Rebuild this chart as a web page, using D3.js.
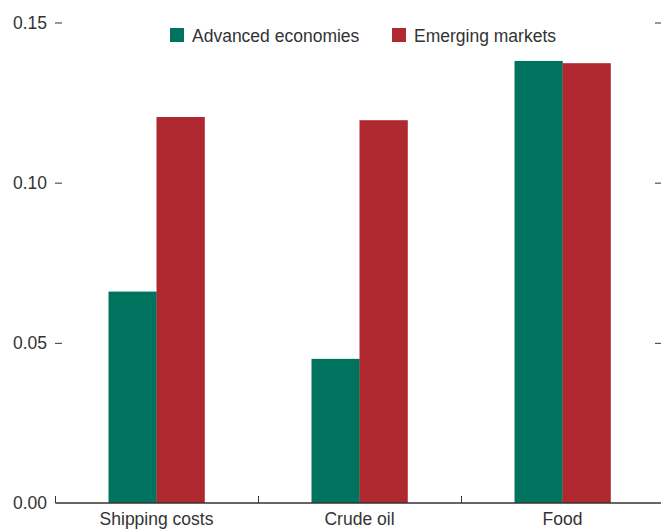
<!DOCTYPE html>
<html>
<head>
<meta charset="utf-8">
<script src="https://cdn.jsdelivr.net/npm/d3@7"></script>
<style>
  body { margin: 0; background: #fff; overflow: hidden; }
  svg { display: block; }
  text { font-family: 'Liberation Sans', Arial, sans-serif; fill: #333; }
</style>
</head>
<body>
<script>
const categories = ['Shipping costs', 'Crude oil', 'Food']
const series = ['Advanced economies', 'Emerging markets']
const advanced = [0.066, 0.045, 0.138]
const emerging = [0.1205, 0.1195, 0.1373]
const yTicks = [0, 0.05, 0.10, 0.15]

const w = 661
const h = 529
const left = 55
const right = 664
const bottom = 503
const fontSize = 17.5
const colors = ['#00735F', '#B0282F']
const axisColor = '#333'

const svg = d3.select('body').append('svg')
  .attr('width', w)
  .attr('height', h)

const yScale = d3.scaleLinear()
  .domain([0, 0.15])
  .range([bottom, 22.5])

const x0 = d3.scaleBand()
  .domain(categories)
  .range([left, right])

const x1 = d3.scaleBand()
  .domain(series)
  .range([0, x0.bandwidth()])
  .paddingOuter(1.115)

const color = d3.scaleOrdinal().domain(series).range(colors)

// bars
const rows = categories.map((c, i) => ({ cat: c, vals: [advanced[i], emerging[i]] }))

const groups = svg.append('g').selectAll('g')
  .data(rows)
  .join('g')
  .attr('transform', d => 'translate(' + x0(d.cat) + ',0)')

groups.selectAll('rect')
  .data(d => d.vals.map((v, j) => ({ s: series[j], v })))
  .join('rect')
  .attr('x', d => x1(d.s))
  .attr('width', x1.bandwidth() + 0.3)
  .attr('y', d => yScale(d.v))
  .attr('height', d => bottom - yScale(d.v))
  .attr('fill', d => color(d.s))

// left y axis: dashes only
const yAxis = d3.axisLeft(yScale)
  .tickValues(yTicks)
  .tickFormat(d3.format('.2f'))
  .tickSize(0)
  .tickPadding(8)

const gy = svg.append('g')
  .attr('transform', 'translate(' + left + ',0)')
  .call(yAxis)
gy.select('.domain').remove()
gy.selectAll('text').attr('font-size', fontSize).attr('fill', axisColor)
gy.selectAll('.tick').filter(d => d > 0).append('line')
  .attr('x1', 0).attr('x2', 7)
  .attr('stroke', axisColor)

// right side dashes
const gr = svg.append('g')
  .attr('transform', 'translate(' + (right - 2) + ',0)')
  .call(d3.axisRight(yScale).tickValues(yTicks.filter(d => d > 0)).tickSize(-7).tickFormat(''))
gr.select('.domain').remove()
gr.selectAll('line').attr('stroke', axisColor)

// bottom axis
const xAxis = d3.axisBottom(x0).tickSize(0).tickPadding(10)
const gx = svg.append('g')
  .attr('transform', 'translate(0,' + bottom + ')')
  .call(xAxis)
gx.select('.domain').attr('d', 'M' + (left + 0.5) + ',0H' + right).attr('stroke', axisColor).attr('stroke-width', 1.3)
gx.selectAll('text').attr('font-size', fontSize).attr('fill', axisColor)

// category separators
gx.selectAll('.sep')
  .data(categories)
  .join('line')
  .attr('class', 'sep')
  .attr('x1', d => Math.round(x0(d)) + 0.5)
  .attr('x2', d => Math.round(x0(d)) + 0.5)
  .attr('y1', 0).attr('y2', -7)
  .attr('stroke', axisColor)

// legend
const legend = svg.append('g').attr('transform', 'translate(170,28)')
const legX = [0, 222]
series.forEach((s, i) => {
  const g = legend.append('g').attr('transform', 'translate(' + legX[i] + ',0)')
  g.append('rect').attr('width', 14).attr('height', 14).attr('fill', color(s))
  g.append('text').attr('x', 22).attr('y', 14).attr('font-size', fontSize).text(s)
})
</script>
</body>
</html>
